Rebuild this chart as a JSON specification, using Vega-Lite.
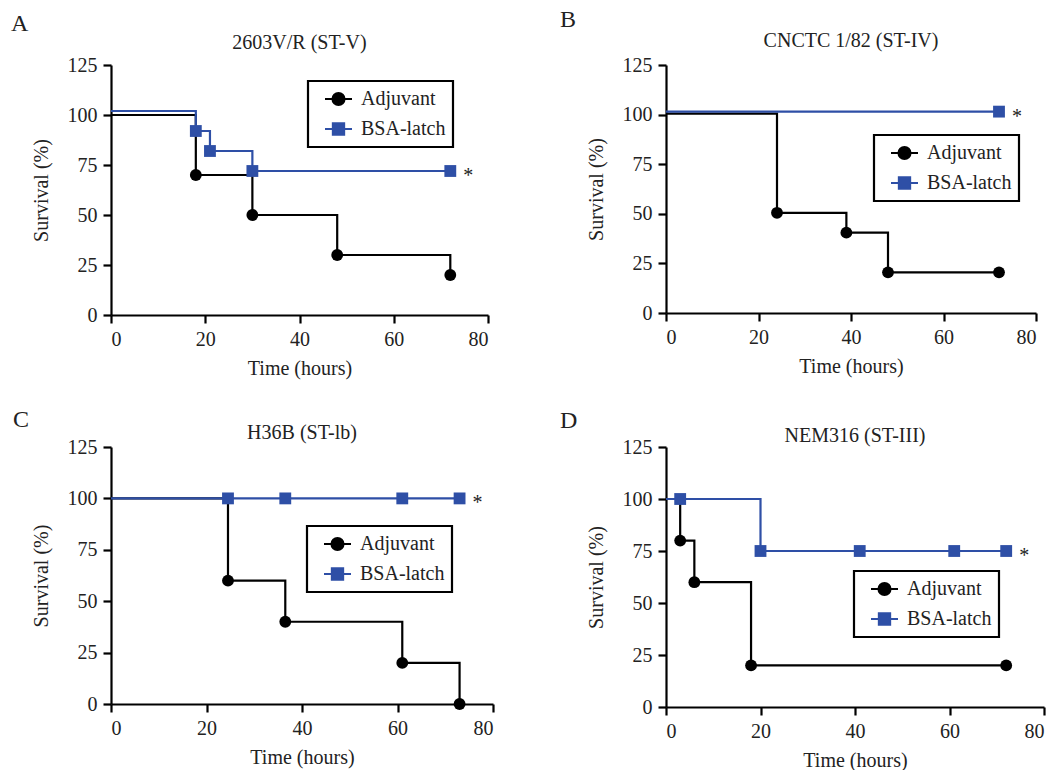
{
  "$schema": "https://vega.github.io/schema/vega-lite/v6.json",
  "padding": {"left": 11, "top": 8, "right": 2, "bottom": 0},
  "background": "white",
  "bounds": "flush",
  "columns": 2,
  "spacing": {"row": 382, "column": 555},
  "resolve": {"scale": {"color": "independent", "x": "independent", "y": "independent"}, "legend": {"color": "independent"}},
  "datasets": {
    "dA": [
      {"group": "Adjuvant", "time": 0, "survival": 100, "marker": false, "note": ""},
      {"group": "Adjuvant", "time": 18, "survival": 70, "marker": true, "note": ""},
      {"group": "Adjuvant", "time": 30, "survival": 50, "marker": true, "note": ""},
      {"group": "Adjuvant", "time": 48, "survival": 30, "marker": true, "note": ""},
      {"group": "Adjuvant", "time": 72, "survival": 20, "marker": true, "note": ""},
      {"group": "BSA-latch", "time": 0, "survival": 102, "marker": false, "note": ""},
      {"group": "BSA-latch", "time": 18, "survival": 92, "marker": true, "note": ""},
      {"group": "BSA-latch", "time": 21, "survival": 82, "marker": true, "note": ""},
      {"group": "BSA-latch", "time": 30, "survival": 72, "marker": true, "note": ""},
      {"group": "BSA-latch", "time": 72, "survival": 72, "marker": true, "note": "*"}
    ],
    "dB": [
      {"group": "Adjuvant", "time": 0, "survival": 100.5, "marker": false, "note": ""},
      {"group": "Adjuvant", "time": 24, "survival": 50.5, "marker": true, "note": ""},
      {"group": "Adjuvant", "time": 39, "survival": 40.5, "marker": true, "note": ""},
      {"group": "Adjuvant", "time": 48, "survival": 20.5, "marker": true, "note": ""},
      {"group": "Adjuvant", "time": 72, "survival": 20.5, "marker": true, "note": ""},
      {"group": "BSA-latch", "time": 0, "survival": 101.5, "marker": false, "note": ""},
      {"group": "BSA-latch", "time": 72, "survival": 101.5, "marker": true, "note": "*"}
    ],
    "dC": [
      {"group": "Adjuvant", "time": 0, "survival": 100, "marker": false, "note": ""},
      {"group": "Adjuvant", "time": 24.5, "survival": 60, "marker": true, "note": ""},
      {"group": "Adjuvant", "time": 36.5, "survival": 40, "marker": true, "note": ""},
      {"group": "Adjuvant", "time": 61, "survival": 20, "marker": true, "note": ""},
      {"group": "Adjuvant", "time": 73, "survival": 0, "marker": true, "note": ""},
      {"group": "BSA-latch", "time": 0, "survival": 100, "marker": false, "note": ""},
      {"group": "BSA-latch", "time": 24.5, "survival": 100, "marker": true, "note": ""},
      {"group": "BSA-latch", "time": 36.5, "survival": 100, "marker": true, "note": ""},
      {"group": "BSA-latch", "time": 61, "survival": 100, "marker": true, "note": ""},
      {"group": "BSA-latch", "time": 73, "survival": 100, "marker": true, "note": "*"}
    ],
    "dD": [
      {"group": "Adjuvant", "time": 0, "survival": 100, "marker": false, "note": ""},
      {"group": "Adjuvant", "time": 3, "survival": 80, "marker": true, "note": ""},
      {"group": "Adjuvant", "time": 6, "survival": 60, "marker": true, "note": ""},
      {"group": "Adjuvant", "time": 18, "survival": 20, "marker": true, "note": ""},
      {"group": "Adjuvant", "time": 72, "survival": 20, "marker": true, "note": ""},
      {"group": "BSA-latch", "time": 0, "survival": 100, "marker": false, "note": ""},
      {"group": "BSA-latch", "time": 3, "survival": 100, "marker": true, "note": ""},
      {"group": "BSA-latch", "time": 20, "survival": 75, "marker": true, "note": ""},
      {"group": "BSA-latch", "time": 41, "survival": 75, "marker": true, "note": ""},
      {"group": "BSA-latch", "time": 61, "survival": 75, "marker": true, "note": ""},
      {"group": "BSA-latch", "time": 72, "survival": 75, "marker": true, "note": "*"}
    ]
  },
  "concat": [
    {
      "title": {"text": "A", "anchor": "start", "frame": "bounds", "dx": -20, "offset": -3},
      "bounds": "flush",
      "vconcat": [{
      "width": 377, "height": 250,
      "data": {"name": "dA"},
      "title": {"text": "2603V/R (ST-V)", "anchor": "middle", "fontSize": 20, "offset": 2},
      "encoding": {
        "x": {"field": "time", "type": "quantitative", "scale": {"domain": [0, 80]}, "axis": {"title": "Time (hours)", "values": [0, 20, 40, 60, 80]}},
        "y": {"field": "survival", "type": "quantitative", "scale": {"domain": [0, 125]}, "axis": {"title": "Survival (%)", "titlePadding": 16, "values": [0, 25, 50, 75, 100, 125]}},
        "color": {"field": "group", "type": "nominal", "scale": {"domain": ["Adjuvant", "BSA-latch"], "range": ["#000000", "#2E4FA6"]},
          "legend": {"orient": "none", "legendX": 197, "legendY": 16,
            "encode": {
              "legend": {"update": {"strokeWidth": {"value": 2.2}}},
              "symbols": {"update": {
                "shape": {"signal": "datum.value === 'Adjuvant' ? 'M-1,0H1M-0.45,0A0.45,0.45,0,1,1,0.45,0A0.45,0.45,0,1,1,-0.45,0Z' : 'M-1,0H1M-0.42,-0.42H0.42V0.42H-0.42Z'"},
                "fill": {"signal": "datum.value === 'Adjuvant' ? '#000000' : '#2E4FA6'"},
                "stroke": {"signal": "datum.value === 'Adjuvant' ? '#000000' : '#2E4FA6'"},
                "strokeWidth": {"value": 2}, "opacity": {"value": 1}, "size": {"value": 729}}}}}}
      },
      "layer": [
        {"mark": {"type": "line", "interpolate": "step-after", "strokeWidth": 2.2}},
        {"transform": [{"filter": "datum.marker && datum.group === 'Adjuvant'"}],
         "mark": {"type": "point", "shape": "circle", "filled": true, "opacity": 1, "size": 140}},
        {"transform": [{"filter": "datum.marker && datum.group === 'BSA-latch'"}],
         "mark": {"type": "point", "shape": "square", "filled": true, "opacity": 1, "size": 140}},
        {"transform": [{"filter": "datum.note != ''"}],
         "mark": {"type": "text", "dx": 18, "dy": 5, "fontSize": 20, "color": "#222"},
         "encoding": {"text": {"field": "note"}, "color": {"value": "#222"}}}
      ]
      }]
    },
    {
      "title": {"text": "B", "anchor": "start", "frame": "bounds", "dx": -26, "offset": -1},
      "bounds": "flush",
      "vconcat": [{
      "width": 370, "height": 248,
      "data": {"name": "dB"},
      "title": {"text": "CNCTC 1/82 (ST-IV)", "anchor": "middle", "fontSize": 20, "offset": 4},
      "encoding": {
        "x": {"field": "time", "type": "quantitative", "scale": {"domain": [0, 80]}, "axis": {"title": "Time (hours)", "values": [0, 20, 40, 60, 80]}},
        "y": {"field": "survival", "type": "quantitative", "scale": {"domain": [0, 125]}, "axis": {"title": "Survival (%)", "titlePadding": 16, "values": [0, 25, 50, 75, 100, 125]}},
        "color": {"field": "group", "type": "nominal", "scale": {"domain": ["Adjuvant", "BSA-latch"], "range": ["#000000", "#2E4FA6"]},
          "legend": {"orient": "none", "legendX": 208, "legendY": 70,
            "encode": {
              "legend": {"update": {"strokeWidth": {"value": 2.2}}},
              "symbols": {"update": {
                "shape": {"signal": "datum.value === 'Adjuvant' ? 'M-1,0H1M-0.45,0A0.45,0.45,0,1,1,0.45,0A0.45,0.45,0,1,1,-0.45,0Z' : 'M-1,0H1M-0.42,-0.42H0.42V0.42H-0.42Z'"},
                "fill": {"signal": "datum.value === 'Adjuvant' ? '#000000' : '#2E4FA6'"},
                "stroke": {"signal": "datum.value === 'Adjuvant' ? '#000000' : '#2E4FA6'"},
                "strokeWidth": {"value": 2}, "opacity": {"value": 1}, "size": {"value": 729}}}}}}
      },
      "layer": [
        {"mark": {"type": "line", "interpolate": "step-after", "strokeWidth": 2.2}},
        {"transform": [{"filter": "datum.marker && datum.group === 'Adjuvant'"}],
         "mark": {"type": "point", "shape": "circle", "filled": true, "opacity": 1, "size": 140}},
        {"transform": [{"filter": "datum.marker && datum.group === 'BSA-latch'"}],
         "mark": {"type": "point", "shape": "square", "filled": true, "opacity": 1, "size": 140}},
        {"transform": [{"filter": "datum.note != ''"}],
         "mark": {"type": "text", "dx": 18, "dy": 5, "fontSize": 20, "color": "#222"},
         "encoding": {"text": {"field": "note"}, "color": {"value": "#222"}}}
      ]
      }]
    },
    {
      "title": {"text": "C", "anchor": "start", "frame": "bounds", "dx": -18, "offset": -9},
      "bounds": "flush",
      "vconcat": [{
      "width": 382, "height": 257,
      "data": {"name": "dC"},
      "title": {"text": "H36B (ST-lb)", "anchor": "middle", "fontSize": 20, "offset": -6},
      "encoding": {
        "x": {"field": "time", "type": "quantitative", "scale": {"domain": [0, 80]}, "axis": {"title": "Time (hours)", "values": [0, 20, 40, 60, 80]}},
        "y": {"field": "survival", "type": "quantitative", "scale": {"domain": [0, 125]}, "axis": {"title": "Survival (%)", "titlePadding": 16, "values": [0, 25, 50, 75, 100, 125]}},
        "color": {"field": "group", "type": "nominal", "scale": {"domain": ["Adjuvant", "BSA-latch"], "range": ["#000000", "#2E4FA6"]},
          "legend": {"orient": "none", "legendX": 196, "legendY": 79,
            "encode": {
              "legend": {"update": {"strokeWidth": {"value": 2.2}}},
              "symbols": {"update": {
                "shape": {"signal": "datum.value === 'Adjuvant' ? 'M-1,0H1M-0.45,0A0.45,0.45,0,1,1,0.45,0A0.45,0.45,0,1,1,-0.45,0Z' : 'M-1,0H1M-0.42,-0.42H0.42V0.42H-0.42Z'"},
                "fill": {"signal": "datum.value === 'Adjuvant' ? '#000000' : '#2E4FA6'"},
                "stroke": {"signal": "datum.value === 'Adjuvant' ? '#000000' : '#2E4FA6'"},
                "strokeWidth": {"value": 2}, "opacity": {"value": 1}, "size": {"value": 729}}}}}}
      },
      "layer": [
        {"mark": {"type": "line", "interpolate": "step-after", "strokeWidth": 2.2}},
        {"transform": [{"filter": "datum.marker && datum.group === 'Adjuvant'"}],
         "mark": {"type": "point", "shape": "circle", "filled": true, "opacity": 1, "size": 140}},
        {"transform": [{"filter": "datum.marker && datum.group === 'BSA-latch'"}],
         "mark": {"type": "point", "shape": "square", "filled": true, "opacity": 1, "size": 140}},
        {"transform": [{"filter": "datum.note != ''"}],
         "mark": {"type": "text", "dx": 18, "dy": 5, "fontSize": 20, "color": "#222"},
         "encoding": {"text": {"field": "note"}, "color": {"value": "#222"}}}
      ]
      }]
    },
    {
      "title": {"text": "D", "anchor": "start", "frame": "bounds", "dx": -26, "offset": -7},
      "bounds": "flush",
      "vconcat": [{
      "width": 378, "height": 260,
      "data": {"name": "dD"},
      "title": {"text": "NEM316 (ST-III)", "anchor": "middle", "fontSize": 20, "offset": -9},
      "encoding": {
        "x": {"field": "time", "type": "quantitative", "scale": {"domain": [0, 80]}, "axis": {"title": "Time (hours)", "values": [0, 20, 40, 60, 80]}},
        "y": {"field": "survival", "type": "quantitative", "scale": {"domain": [0, 125]}, "axis": {"title": "Survival (%)", "titlePadding": 16, "values": [0, 25, 50, 75, 100, 125]}},
        "color": {"field": "group", "type": "nominal", "scale": {"domain": ["Adjuvant", "BSA-latch"], "range": ["#000000", "#2E4FA6"]},
          "legend": {"orient": "none", "legendX": 188, "legendY": 124,
            "encode": {
              "legend": {"update": {"strokeWidth": {"value": 2.2}}},
              "symbols": {"update": {
                "shape": {"signal": "datum.value === 'Adjuvant' ? 'M-1,0H1M-0.45,0A0.45,0.45,0,1,1,0.45,0A0.45,0.45,0,1,1,-0.45,0Z' : 'M-1,0H1M-0.42,-0.42H0.42V0.42H-0.42Z'"},
                "fill": {"signal": "datum.value === 'Adjuvant' ? '#000000' : '#2E4FA6'"},
                "stroke": {"signal": "datum.value === 'Adjuvant' ? '#000000' : '#2E4FA6'"},
                "strokeWidth": {"value": 2}, "opacity": {"value": 1}, "size": {"value": 729}}}}}}
      },
      "layer": [
        {"mark": {"type": "line", "interpolate": "step-after", "strokeWidth": 2.2}},
        {"transform": [{"filter": "datum.marker && datum.group === 'Adjuvant'"}],
         "mark": {"type": "point", "shape": "circle", "filled": true, "opacity": 1, "size": 140}},
        {"transform": [{"filter": "datum.marker && datum.group === 'BSA-latch'"}],
         "mark": {"type": "point", "shape": "square", "filled": true, "opacity": 1, "size": 140}},
        {"transform": [{"filter": "datum.note != ''"}],
         "mark": {"type": "text", "dx": 18, "dy": 5, "fontSize": 20, "color": "#222"},
         "encoding": {"text": {"field": "note"}, "color": {"value": "#222"}}}
      ]
      }]
    }
  ],
  "config": {
    "view": {"stroke": null},
    "font": "Liberation Serif",
    "title": {"font": "Liberation Serif", "fontSize": 24, "fontWeight": "normal", "color": "#222"},
    "axis": {
      "grid": false,
      "domainColor": "#000000", "domainWidth": 2.2,
      "tickColor": "#000000", "tickWidth": 2.2, "tickSize": 8,
      "labelFont": "Liberation Serif", "labelFontSize": 20, "labelColor": "#222", "labelPadding": 6,
      "titleFont": "Liberation Serif", "titleFontSize": 20, "titleFontWeight": "normal", "titleColor": "#222", "titlePadding": 9
    },
    "legend": {
      "title": null,
      "labelFont": "Liberation Serif", "labelFontSize": 20, "labelColor": "#222", "labelOffset": 8,
      "strokeColor": "#000000", "padding": 7, "symbolOffset": 9,
      "symbolSize": 729, "clipHeight": 22, "rowPadding": 8, "symbolStrokeWidth": 2
    }
  }
}
